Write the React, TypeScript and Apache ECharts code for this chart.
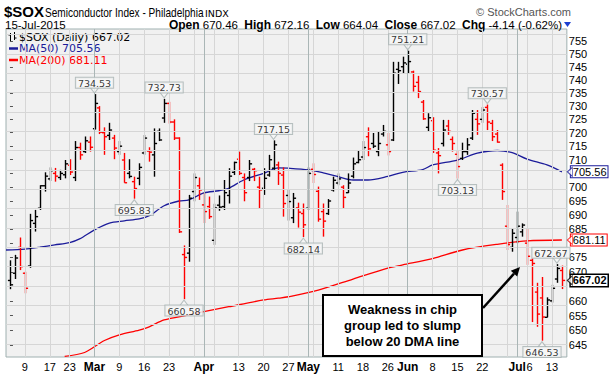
import React, { useEffect, useRef } from 'react';
import * as echarts from 'echarts';

// ---------- data ----------
const DATES = ['2/4','2/5','2/6','2/9','2/10','2/11','2/12','2/13','2/17','2/18','2/19','2/20','2/23','2/24','2/25','2/26','2/27',
  '3/2','3/3','3/4','3/5','3/6','3/9','3/10','3/11','3/12','3/13','3/16','3/17','3/18','3/19','3/20','3/23','3/24','3/25','3/26','3/27','3/30','3/31',
  '4/1','4/2','4/6','4/7','4/8','4/9','4/10','4/13','4/14','4/15','4/16','4/17','4/20','4/21','4/22','4/23','4/24','4/27','4/28','4/29','4/30',
  '5/1','5/4','5/5','5/6','5/7','5/8','5/11','5/12','5/13','5/14','5/15','5/18','5/19','5/20','5/21','5/22','5/26','5/27','5/28','5/29',
  '6/1','6/2','6/3','6/4','6/5','6/8','6/9','6/10','6/11','6/12','6/15','6/16','6/17','6/18','6/19','6/22','6/23','6/24','6/25','6/26','6/29','6/30',
  '7/1','7/2','7/6','7/7','7/8','7/9','7/10','7/13','7/14','7/15'];

const OPEN = [667, 669.5, 678.5, 669.5, 672, 687, 692.4, 700.5, 703, 705,
  703.5, 704.5, 708, 703.5, 714.5, 713, 716.5, 721.5, 729.3, 720,
  719, 718, 713, 709.9, 705, 702, 703.2, 712.5, 713.2, 711.8,
  720.5, 725.5, 731, 724, 718, 676, 676.5, 698.4, 700.5, 693.6,
  693, 681, 693.5, 693, 697, 705.4, 710.2, 703.5, 703.5, 706.5,
  700, 699.6, 704.4, 706.9, 708.1, 704.4, 697, 689, 692.5, 690.5,
  692.4, 706.5, 698.5, 691.2, 690.5, 699, 701.5, 700, 698, 704,
  709, 711, 718.5, 716, 713, 719.5, 715.5, 717.3, 744, 745,
  746, 743, 739, 731.5, 722, 724.5, 712.5, 716, 722.5, 717.5,
  712, 710.5, 713, 718, 725, 725, 729.5, 723.5, 719.5, 708,
  686, 678.5, 682, 684, 680, 674, 663, 661, 654.4, 660,
  667.5, 670.46];
const HIGH = [674, 675.9, 682, 670, 690.4, 691.8, 700.7, 705.4, 707.2, 707,
  706.3, 709.9, 710.2, 716.9, 716.3, 718.6, 718.6, 734.53, 730, 722,
  723.7, 719.2, 716.9, 712.5, 710.2, 703.8, 708.7, 719.2, 714.6, 721.6,
  721.6, 732.73, 731.6, 725, 718.3, 679.2, 697.2, 705, 703.5, 697.9,
  696.6, 694, 697, 702.6, 706.9, 709.3, 713, 705, 709.9, 707,
  703.8, 706.9, 711.8, 717.15, 709.3, 707.2, 699, 697.9, 694.4, 694.1,
  707.2, 708.7, 700.2, 694.1, 695.7, 703.8, 705, 700.7, 705, 710.8,
  713.6, 716.9, 722, 719.9, 720.6, 722.9, 719.9, 746.9, 746.9, 748.9,
  751.21, 743.5, 741.5, 732.3, 727.3, 725.8, 714.3, 724.8, 724.8, 718.6,
  713.6, 716.3, 718, 728.5, 728.5, 729.6, 730.57, 724.8, 721, 708.7,
  693.6, 685.3, 691.2, 687, 685, 674.6, 666.2, 668.2, 661.2, 665.5,
  672.67, 672.16];
const LOW = [664, 667.5, 670.6, 662.6, 671.4, 684.1, 691.8, 698.4, 702.2, 702,
  702.6, 703.2, 704.4, 702.2, 710, 712.5, 713, 721.2, 719.5, 711.8,
  717.3, 710.2, 711.8, 701.6, 703.2, 695.83, 700.7, 711.8, 709.3, 703.8,
  716.9, 723.7, 723.4, 717.3, 683.6, 660.58, 673.5, 694.9, 695.4, 687.1,
  688.6, 679.4, 691.5, 691.8, 694.1, 704.4, 704.4, 694.9, 702.2, 702.2,
  692.4, 697.2, 703.8, 706.3, 700.8, 689.4, 688, 687.1, 685.5, 682.14,
  691.8, 701.5, 687.6, 682.3, 690, 698.4, 700.7, 692.4, 697.9, 703.2,
  708.7, 709.9, 711.3, 714.3, 711.3, 718.6, 711.6, 716.9, 738.4, 742.4,
  742.4, 735.5, 733, 724.8, 720.3, 712.5, 705, 714.9, 719.2, 713,
  703.13, 709.9, 711.8, 717.3, 719.2, 723.7, 721, 716.9, 716.3, 695.4,
  677.6, 677, 680, 682.3, 672.4, 652.8, 651.2, 646.53, 654.4, 659.4,
  666.2, 664.04];
const CLOSE = [665.5, 674.8, 671.8, 664.3, 688, 689.4, 700.5, 704, 706, 704,
  705, 708.5, 705.5, 714.5, 711.8, 717, 714.6, 731, 720.2, 718.5,
  721, 714.3, 715, 701.6, 703.9, 699.5, 707.2, 718, 712.8, 716,
  717.3, 731, 724, 718, 684, 675, 696, 703.5, 699, 691.2,
  689.4, 692.5, 692.8, 698, 704, 709, 705, 698, 708.5, 706,
  699, 703.2, 710, 715.5, 705, 694.1, 694.8, 696, 691, 686.5,
  705, 704.6, 688.5, 687.8, 695, 702.5, 703, 696.3, 701.5, 708.5,
  710, 714.5, 714, 715, 716, 720.5, 713, 742.5, 743.5, 746.5,
  747, 737.5, 735.5, 725.2, 725.6, 713.5, 711.5, 721, 720.5, 716,
  707.5, 713, 715.5, 727.3, 723.3, 728.5, 724, 718.5, 716.5, 698.4,
  679.5, 683.5, 686, 686.4, 675.4, 672.9, 655.5, 654.5, 660.3, 664.3,
  671.16, 667.02];
const PREV_CLOSE = 662;

// moving averages (bar position, value)
const MA50_AT = [-0.8, 3, 6, 9, 12, 14, 17, 20, 23, 26, 28, 31, 34, 36, 39, 42, 44, 47, 51, 54, 56, 60, 63, 66, 69, 72, 76, 79, 83, 85, 90, 94, 98, 101, 104, 108, 111];
const MA50 = [677.6, 677.9, 678.6, 679.4, 680.2, 681.5, 684.7, 687.1, 687.9, 688.6, 689.7, 693.3, 695, 695.4, 697.9, 698.7, 699.6, 702.6, 705.0, 707, 706.9, 706.3, 705.2, 703.8, 702.6, 702.6, 703.9, 705.4, 706.4, 708.1, 709.9, 712.4, 713.4, 712.6, 710.2, 708.1, 705.56];
const MA200_AT = [11, 15, 19, 22, 26, 28, 31, 36, 38, 44, 51, 54, 56, 62, 69, 76, 79, 85, 91, 98, 104, 111];
const MA200 = [641.3, 642.6, 646.6, 648.5, 650.1, 651.2, 653.5, 655.2, 656, 658, 660.3, 660.9, 661.4, 663.7, 667.5, 671.3, 672.4, 674.6, 677.6, 679.6, 680.8, 681.11];

const Y_TICKS = [645, 650, 655, 660, 665, 670, 675, 680, 685, 690, 695, 700, 705, 710, 715, 720, 725, 730, 735, 740, 745, 750, 755];
// tick labels covered by the value tags in the reference
const Y_HIDDEN_LABELS = [665, 680, 705];
const X_LABEL_DATES = ['2/9','2/17','2/23','3/2','3/9','3/16','3/23','4/1','4/13','4/20','4/27','5/1','5/11','5/18','5/26','6/1','6/8','6/15','6/22','7/1','7/6','7/13'];
const X_LABELS = ['9','17','23','Mar','9','16','23','Apr','13','20','27','May','11','18','26','Jun','8','15','22','Jul','6','13'];
const MONTH_DATES = ['3/2','4/1','5/1','6/1','7/1'];
const WEEK_DATES = ['2/9','2/17','2/23','3/9','3/16','3/23','3/30','4/6','4/13','4/20','4/27','5/4','5/11','5/18','5/26','6/8','6/15','6/22','6/29','7/6','7/13'];

const HIGH_CALLOUTS = [['3/2', 734.53], ['3/20', 732.73], ['4/22', 717.15], ['6/1', 751.21], ['6/23', 730.57], ['7/14', 672.67]] as const;
const LOW_CALLOUTS = [['3/12', 695.83], ['3/26', 660.58], ['4/30', 682.14], ['6/15', 703.13], ['7/9', 646.53]] as const;

const TAG_VALUES = [705.56, 681.11, 667.02];
const TAG_KINDS = ['ma50', 'ma200', 'last'];

// ---------- layout ----------
const X_MIN = -0.8;
const X_MAX = 112.0;
const Y_MIN_PRICE = 641.1;
const Y_MAX_PRICE = 759.7;
const SANS = '"Liberation Sans", Arial, sans-serif';
const VERD = '"DejaVu Sans", Verdana, sans-serif';
const BLUE = '#1c1c9a';
const RED = '#ff0000';

function buildOption(): any {
  const lg = Math.log;
  const idx = (d: string) => DATES.indexOf(d);
  const ohlc = DATES.map((_, i) => {
    const prev = i === 0 ? PREV_CLOSE : CLOSE[i - 1];
    return [i, lg(OPEN[i]), lg(HIGH[i]), lg(LOW[i]), lg(CLOSE[i]), CLOSE[i] >= prev ? 1 : 0];
  });
  const labelIdx = X_LABEL_DATES.map(idx);
  const tagStyle: Record<string, any> = {
    ma50: { color: '#000', fontSize: 11, fontFamily: SANS, backgroundColor: '#fff', borderColor: BLUE, borderWidth: 1, padding: [0, 1, 0, 2], lineHeight: 8 },
    ma200: { color: '#000', fontSize: 11, fontFamily: SANS, backgroundColor: '#fff', borderColor: RED, borderWidth: 1, padding: [0, 1, 0, 2], lineHeight: 8 },
    last: { color: '#000', fontSize: 11, fontWeight: 'bold', fontFamily: SANS, backgroundColor: '#fff', borderColor: '#000', borderWidth: 1.5, padding: [0, 1, 0, 2], lineHeight: 8 },
  };
  const tagBorder = [BLUE, RED, '#000'];

  const calloutLabel = {
    show: true,
    fontSize: 9.5,
    fontFamily: VERD,
    color: '#000',
    backgroundColor: '#f7f7f7',
    borderColor: '#a7b3b3',
    borderWidth: 1,
    padding: [1, 2, 0, 2],
    lineHeight: 9,
    formatter: (p: any) => p.data.value[2],
  };
  // keep the callout box inside the plot near its right edge
  const calloutItem = (d: string, v: number) => {
    const i = idx(d);
    return { value: [i, lg(v), v.toFixed(2)], label: i > DATES.length - 4 ? { offset: [-6, 0] } : {} };
  };

  return {
    animation: false,
    backgroundColor: '#ffffff',
    grid: {
      left: 6, top: 29, width: 566, height: 328,
      show: true, backgroundColor: '#f1f1f1', borderColor: '#9fb0b0', borderWidth: 1,
    },
    xAxis: {
      type: 'value', min: X_MIN, max: X_MAX,
      axisLine: { show: false }, axisTick: { show: false }, splitLine: { show: false },
      axisLabel: {
        customValues: labelIdx,
        margin: 4,
        fontSize: 11,
        fontFamily: SANS,
        color: '#000',
        formatter: (v: number) => {
          const j = labelIdx.indexOf(Math.round(v));
          const t = j >= 0 ? X_LABELS[j] : '';
          if (/^[A-Z]/.test(t)) return `{m|${t}}`;
          // the label right after a month name sits a little to the right
          if (j > 0 && /^[A-Z]/.test(X_LABELS[j - 1]) && labelIdx[j] - labelIdx[j - 1] < 4) return `{s|${t}}`;
          return t;
        },
        rich: {
          m: { fontWeight: 'bold', fontSize: 12, fontFamily: SANS, color: '#000' },
          s: { fontSize: 11, fontFamily: SANS, color: '#000', padding: [0, 0, 0, 5] },
        },
      },
    },
    yAxis: [
      {
        type: 'value', position: 'right', min: lg(Y_MIN_PRICE), max: lg(Y_MAX_PRICE),
        axisLine: { show: false },
        axisTick: { show: true, length: 3, customValues: Y_TICKS.map(lg), lineStyle: { color: '#555' } },
        splitLine: { show: false },
        axisLabel: {
          customValues: Y_TICKS.filter((t) => !Y_HIDDEN_LABELS.includes(t)).map(lg), margin: 2, fontSize: 11, fontFamily: SANS, color: '#000', lineHeight: 7,
          formatter: (v: number) => String(Math.round(Math.exp(v))),
        },
      },
      {
        type: 'value', position: 'right', min: lg(Y_MIN_PRICE), max: lg(Y_MAX_PRICE),
        axisLine: { show: false }, axisTick: { show: false }, splitLine: { show: false },
        axisLabel: {
          customValues: TAG_VALUES.map(lg), margin: 4,
          formatter: (v: number) => {
            let best = 0;
            TAG_VALUES.forEach((t, j) => { if (Math.abs(lg(t) - v) < Math.abs(lg(TAG_VALUES[best]) - v)) best = j; });
            return `{${TAG_KINDS[best]}|${TAG_VALUES[best].toFixed(2)}}`;
          },
          rich: tagStyle,
        },
      },
    ],
    series: [
      {
        type: 'line', name: 'grid', data: [], z: 1, silent: true,
        markLine: {
          silent: true, symbol: 'none', label: { show: false }, animation: false,
          data: [
            ...Y_TICKS.map((t) => ({ yAxis: lg(t), lineStyle: { color: '#d6d6d6', width: 1, type: 'solid' } })),
            ...WEEK_DATES.map((d) => ({ xAxis: idx(d), lineStyle: { color: '#d6d6d6', width: 1, type: 'solid' } })),
            ...MONTH_DATES.map((d) => ({ xAxis: idx(d), lineStyle: { color: '#aab6b6', width: 1, type: 'solid' } })),
          ],
        },
      },
      {
        type: 'line', name: 'MA(200)', z: 3, showSymbol: false, smooth: 0.3, clip: true,
        data: MA200_AT.map((x, j) => [x, lg(MA200[j])]),
        lineStyle: { color: RED, width: 1.3 },
      },
      {
        type: 'line', name: 'MA(50)', z: 3, showSymbol: false, smooth: 0.3, clip: true,
        data: MA50_AT.map((x, j) => [x, lg(MA50[j])]),
        lineStyle: { color: BLUE, width: 1.3 },
      },
      {
        type: 'custom', name: '$SOX', z: 4, clip: true,
        data: ohlc,
        encode: { x: 0, y: [1, 2, 3, 4] },
        renderItem: (_p: any, api: any) => {
          const x = api.value(0);
          const h = api.coord([x, api.value(2)]);
          const l = api.coord([x, api.value(3)]);
          const o = api.coord([x, api.value(1)]);
          const c = api.coord([x, api.value(4)]);
          const color = api.value(5) ? '#000000' : '#ff0000';
          const cx = Math.round(h[0]) + 0.5;
          const st = { stroke: color, lineWidth: 1.4 };
          return {
            type: 'group',
            children: [
              { type: 'line', shape: { x1: cx, y1: h[1], x2: cx, y2: l[1] }, style: st },
              { type: 'line', shape: { x1: cx - 2.6, y1: o[1], x2: cx, y2: o[1] }, style: st },
              { type: 'line', shape: { x1: cx, y1: c[1], x2: cx + 2.6, y2: c[1] }, style: st },
            ],
          };
        },
      },
      {
        type: 'scatter', name: 'highs', z: 6, clip: false, silent: true,
        data: HIGH_CALLOUTS.map(([d, v]) => calloutItem(d, v)),
        symbol: 'path://M0,0 L10,0 L5,6 Z', symbolSize: [9, 6], symbolOffset: [0, -4],
        itemStyle: { color: '#f7f7f7', borderColor: '#a7b3b3', borderWidth: 1 },
        label: { ...calloutLabel, position: 'top', distance: -1 },
      },
      {
        type: 'scatter', name: 'lows', z: 6, clip: false, silent: true,
        data: LOW_CALLOUTS.map(([d, v]) => calloutItem(d, v)),
        symbol: 'path://M5,0 L10,6 L0,6 Z', symbolSize: [9, 6], symbolOffset: [0, 4],
        itemStyle: { color: '#f7f7f7', borderColor: '#a7b3b3', borderWidth: 1 },
        label: { ...calloutLabel, position: 'bottom', distance: -1 },
      },
      {
        type: 'scatter', name: 'tags', z: 7, clip: false, silent: true,
        data: TAG_VALUES.map((v, j) => ({ value: [X_MAX, lg(v)], itemStyle: { color: '#fff', borderColor: tagBorder[j], borderWidth: 1 } })),
        symbol: 'path://M0,5 L6,0 L6,10 Z', symbolSize: [5, 9], symbolOffset: [3, 0],
      },
    ],
    graphic: [
      { type: 'text', x: 4, y: 11.5, style: { text: '$SOX', fontSize: 15, lineHeight: 13, fontWeight: 'bold', fontFamily: SANS, fill: '#000', align: 'left', verticalAlign: 'middle' } },
      { type: 'text', x: 45, y: 12.5, scaleX: 0.84, style: { text: 'Semiconductor Index - Philadelphia', fontSize: 12, lineHeight: 12, fontFamily: SANS, fill: '#000', align: 'left', verticalAlign: 'middle' } },
      { type: 'text', x: 205, y: 13, style: { text: 'INDX', fontSize: 9.5, lineHeight: 10, fontFamily: VERD, fill: '#000', align: 'left', verticalAlign: 'middle' } },
      { type: 'text', x: 571, y: 12, style: { text: '\u00a9 StockCharts.com', fontSize: 11, lineHeight: 11, fontFamily: SANS, fill: '#555', align: 'right', verticalAlign: 'middle' } },
      { type: 'text', x: 5, y: 24.5, style: { text: '15-Jul-2015', fontSize: 11.5, lineHeight: 11, fontFamily: SANS, fill: '#000', align: 'left', verticalAlign: 'middle' } },
      {
        type: 'text', x: 562, y: 24.5,
        style: {
          text: '{b|Open} 670.46  {b|High} 672.16  {b|Low} 664.04  {b|Close} 667.02  {b|Chg} -4.14 (-0.62%)',
          rich: { b: { fontWeight: 'bold', fontSize: 12, lineHeight: 11, fontFamily: SANS, fill: '#000' } },
          fontSize: 11.5, lineHeight: 11, fontFamily: SANS, fill: '#000', align: 'right', verticalAlign: 'middle',
        },
      },
      { type: 'polygon', shape: { points: [[564, 22], [571, 22], [567.5, 27]] }, style: { fill: '#1c3fd0' } },

      // in-plot legend
      { type: 'line', shape: { x1: 10.5, y1: 33, x2: 10.5, y2: 41 }, style: { stroke: '#000', lineWidth: 1 } },
      { type: 'line', shape: { x1: 8.5, y1: 35, x2: 10.5, y2: 35 }, style: { stroke: '#000', lineWidth: 1 } },
      { type: 'line', shape: { x1: 14.5, y1: 32, x2: 14.5, y2: 40 }, style: { stroke: '#000', lineWidth: 1 } },
      { type: 'line', shape: { x1: 14.5, y1: 38, x2: 16.5, y2: 38 }, style: { stroke: '#000', lineWidth: 1 } },
      { type: 'text', x: 19, y: 37, style: { text: '$SOX (Daily) 667.02', fontSize: 11, lineHeight: 11, fontFamily: VERD, fill: '#000', align: 'left', verticalAlign: 'middle' } },
      { type: 'line', shape: { x1: 9, y1: 48.5, x2: 18, y2: 48.5 }, style: { stroke: BLUE, lineWidth: 2.5 } },
      { type: 'text', x: 19, y: 48.5, style: { text: 'MA(50) 705.56', fontSize: 11, lineHeight: 11, fontFamily: VERD, fill: BLUE, align: 'left', verticalAlign: 'middle' } },
      { type: 'line', shape: { x1: 9, y1: 60, x2: 18, y2: 60 }, style: { stroke: RED, lineWidth: 2.5 } },
      { type: 'text', x: 19, y: 60, style: { text: 'MA(200) 681.11', fontSize: 11, lineHeight: 11, fontFamily: VERD, fill: RED, align: 'left', verticalAlign: 'middle' } },

      // annotation
      { type: 'rect', z: 20, shape: { x: 323, y: 295, width: 159, height: 61 }, style: { fill: '#ffffff', stroke: '#000', lineWidth: 2 } },
      { type: 'text', z: 21, x: 402.5, y: 309, style: { text: 'Weakness in chip', fontSize: 13, lineHeight: 14, fontWeight: 'bold', fontFamily: SANS, fill: '#000', align: 'center', verticalAlign: 'middle' } },
      { type: 'text', z: 21, x: 402.5, y: 325, style: { text: 'group led to slump', fontSize: 13, lineHeight: 14, fontWeight: 'bold', fontFamily: SANS, fill: '#000', align: 'center', verticalAlign: 'middle' } },
      { type: 'text', z: 21, x: 402.5, y: 341, style: { text: 'below 20 DMA line', fontSize: 13, lineHeight: 14, fontWeight: 'bold', fontFamily: SANS, fill: '#000', align: 'center', verticalAlign: 'middle' } },
      { type: 'line', z: 20, shape: { x1: 483, y1: 308, x2: 514, y2: 273.7 }, style: { stroke: '#000', lineWidth: 2.5 } },
      { type: 'polygon', z: 20, shape: { points: [[520, 267], [517.2, 276.6], [510.8, 270.8]] }, style: { fill: '#000' } },
    ],
  };
}

export default function App() {
  const ref = useRef<HTMLDivElement>(null);
  useEffect(() => {
    if (!ref.current) return;
    const chart = echarts.init(ref.current, undefined, { renderer: 'svg' });
    chart.setOption(buildOption());
    return () => chart.dispose();
  }, []);
  return <div ref={ref} style={{ position: 'fixed', left: 0, top: 0, width: 612, height: 377, background: '#fff' }} />;
}
